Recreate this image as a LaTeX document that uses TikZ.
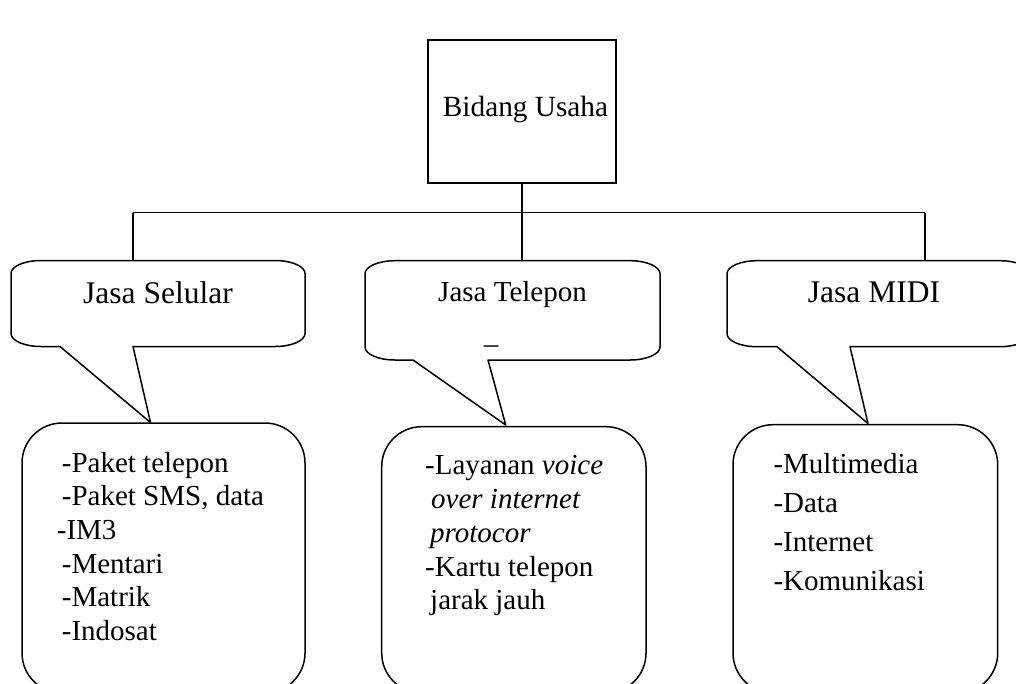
\documentclass[tikz,border=0pt]{standalone}
\usepackage{fontspec}
\setmainfont{Liberation Serif}
\usetikzlibrary{calc}
\tikzset{
	outline/.style={draw=black, line width=1.5pt, line join=round},
	wire/.style={draw=black, line width=1.5pt},
	headtext/.style={inner sep=0pt, anchor=base, font=\fontsize{31.5}{36}\selectfont},
	listtext/.style={inner sep=0pt, anchor=north west, align=left}
}
% speech bubble: left, top, right, bottom, base left, base right, tip
\newcommand{\bubble}[7]{%
	\draw[outline] (#1+30,#2) -- (#3-30,#2)
		arc[start angle=90,end angle=0,x radius=30pt,y radius=13pt] -- (#3,#4+13)
		arc[start angle=0,end angle=-90,x radius=30pt,y radius=13pt] -- (#6,#4) -- (#7) -- (#5,#4) -- (#1+30,#4)
		arc[start angle=270,end angle=180,x radius=30pt,y radius=13pt] -- (#1,#2-13)
		arc[start angle=180,end angle=90,x radius=30pt,y radius=13pt] -- cycle;}
\begin{document}
\begin{tikzpicture}[x=1pt,y=1pt]
        \useasboundingbox (0,0) rectangle (1016,-683);
        \clip (0,0) rectangle (1016,-683);
        % top box
        \node[draw, line width=1.5pt, minimum width=188pt, minimum height=143pt, inner sep=0pt] (usaha) at (522,-111.5) {};
        \node[headtext, font=\fontsize{29.3}{34}\selectfont] (usaha_txt) at (525.5,-116) {Bidang Usaha};
        % tree connectors
        \coordinate (fork_L) at (133,-212.7);
        \coordinate (fork_M) at (522,-212.7);
        \coordinate (fork_R) at (925,-212.7);
        \coordinate (sel_in) at (133,-260.5);
        \coordinate (tel_in) at (522,-260.7);
        \coordinate (midi_in) at (925,-260.7);
        \draw[wire] (fork_L) -- (fork_R);
        \draw[wire] (usaha.south -| fork_M) -- (tel_in);
        \draw[wire] (fork_L) -- (sel_in);
        \draw[wire] (fork_R) -- (midi_in);
        % bubbles
        \coordinate (sel_tip) at (150.5,-422.5);
        \coordinate (tel_tip) at (505.7,-425);
        \coordinate (midi_tip) at (868,-423.5);
        \bubble{11}{-260.5}{305}{-346.5}{60}{133}{sel_tip}
        \bubble{365}{-260.7}{660}{-360}{413}{488}{tel_tip}
        \bubble{727}{-260.7}{1030}{-346.7}{777}{850}{midi_tip}
        \node[headtext] (sel_txt) at (158,-303) {Jasa Selular};
        \node[headtext, font=\fontsize{29}{34}\selectfont] (tel_txt) at (512.5,-301.7) {Jasa Telepon};
        \node[headtext] (midi_txt) at (874,-302.7) {Jasa MIDI};
        \node[inner sep=0pt, font=\fontsize{29}{34}\selectfont] (tel_mark) at (491,-345) {\_};
        % detail boxes
        \draw[outline, rounded corners=40pt] (22,-423) rectangle (305,-693);
        \draw[outline, rounded corners=40pt] (381.7,-426.7) rectangle (646,-693);
        \draw[outline, rounded corners=40pt] (733,-424.7) rectangle (997.7,-693);
        \node[listtext, font=\fontsize{29}{33.6}\selectfont] (sel_list) at (61.7,-452) {-Paket telepon\\-Paket SMS, data\\\hspace*{-5pt}-IM3\\-Mentari\\-Matrik\\-Indosat};
        \node[listtext, font=\fontsize{29}{33.75}\selectfont] (tel_list) at (425,-455.5) {-Layanan \textit{voice}\\\hspace*{6pt}\textit{over internet}\\\hspace*{5pt}\textit{protocor}\\-Kartu telepon\\\hspace*{5pt}jarak jauh};
        \node[listtext, font=\fontsize{29}{38.8}\selectfont] (midi_list) at (773.3,-453.5) {-Multimedia\\-Data\\-Internet\\-Komunikasi};
    \end{tikzpicture}
\end{document}
